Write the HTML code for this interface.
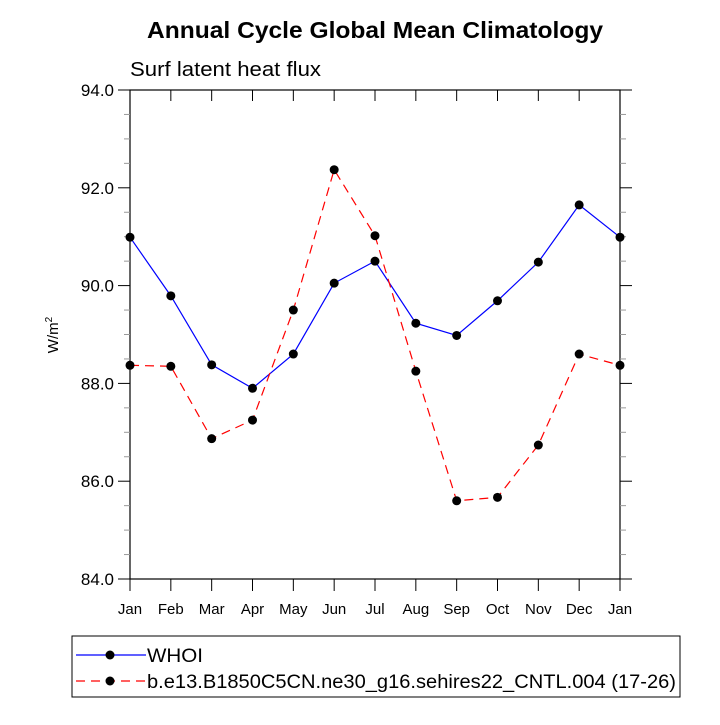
<!DOCTYPE html>
<html><head><meta charset="utf-8"><style>
body{margin:0;background:#fff;}
svg text{font-family:"Liberation Sans",Helvetica,sans-serif;}
</style></head><body>
<svg id="chart" width="720" height="720" xmlns="http://www.w3.org/2000/svg">
<text x="147" y="38" textLength="456" lengthAdjust="spacingAndGlyphs" font-size="23" font-weight="bold">Annual Cycle Global Mean Climatology</text>
<text x="130" y="76" textLength="191" lengthAdjust="spacingAndGlyphs" font-size="20">Surf latent heat flux</text>
<text transform="translate(58,335) rotate(-90)" text-anchor="middle" font-size="15">W/m<tspan dy="-6" font-size="10">2</tspan></text>
<g id="axes"></g>
<g id="series"></g>
<rect x="72" y="636" width="608" height="61" fill="none" stroke="#000" stroke-width="1"/>
<g>
<line x1="76" y1="655" x2="146" y2="655" stroke="#0000ff" stroke-width="1.2"/><circle cx="110" cy="655" r="4.5"/>
<text x="147" y="662" textLength="56" lengthAdjust="spacingAndGlyphs" font-size="19">WHOI</text></g>
<g>
<line x1="76" y1="681" x2="146" y2="681" stroke="#ff0000" stroke-width="1.2" stroke-dasharray="9,6"/><circle cx="110" cy="681" r="4.5"/>
<text x="147" y="688" textLength="529" lengthAdjust="spacingAndGlyphs" font-size="19">b.e13.B1850C5CN.ne30_g16.sehires22_CNTL.004 (17-26)</text></g>
</svg>
<script>
const months=["Jan","Feb","Mar","Apr","May","Jun","Jul","Aug","Sep","Oct","Nov","Dec","Jan"];
const whoi=[90.99,89.79,88.38,87.9,88.6,90.05,90.5,89.23,88.98,89.69,90.48,91.65,90.99];
const model=[88.37,88.35,86.87,87.25,89.5,92.37,91.02,88.25,85.6,85.67,86.74,88.6,88.37];
const yTicks=[84,86,88,90,92,94];
const X0=130,X1=620,Y0=579,Y1=90,YMIN=84,YMAX=94;
const NS="http://www.w3.org/2000/svg";
function xs(i){return X0+(X1-X0)*i/(months.length-1);}
function ys(v){return Y0-(v-YMIN)/(YMAX-YMIN)*(Y0-Y1);}
function mk(tag,at,parent){const e=document.createElementNS(NS,tag);for(const k in at)e.setAttribute(k,at[k]);parent.appendChild(e);return e;}
const ax=document.getElementById('axes');
const frame=mk('rect',{x:X0,y:Y1,width:X1-X0,height:Y0-Y1,fill:'none',stroke:'#000','stroke-width':1.2},ax);


months.forEach((m,i)=>{
 const x=xs(i);
 mk('line',{x1:x,y1:Y0,x2:x,y2:Y0+12,stroke:'#000'},ax);
 mk('line',{x1:x,y1:Y1,x2:x,y2:Y1+11,stroke:'#000'},ax);
 const t=mk('text',{x:x,y:Y0+35,'text-anchor':'middle','font-size':15},ax);
 t.textContent=m;
 
 
});
for(let v=YMIN;v<=YMAX+0.001;v+=0.5){
 const y=ys(v);const major=Math.abs(v/2-Math.round(v/2))<0.01;
 const L=major?12:6;const c=major?'#000':'#999';
 mk('line',{x1:X0-L,y1:y,x2:X0,y2:y,stroke:c},ax);
 mk('line',{x1:X1,y1:y,x2:X1+L,y2:y,stroke:c},ax);
}
yTicks.forEach(v=>{
 const t=mk('text',{x:X0-16,y:ys(v)+6,'text-anchor':'end','font-size':17},ax);
 t.textContent=v.toFixed(1);
 
 
});
const sg=document.getElementById('series');
function draw(vals,color,dash,name){
 const g=mk('g',{},sg);
 
 
 const pts=vals.map((v,i)=>xs(i)+','+ys(v)).join(' ');
 const at={points:pts,fill:'none',stroke:color,'stroke-width':1.2};if(dash)at['stroke-dasharray']=dash;
 mk('polyline',at,g);
 vals.forEach((v,i)=>{const c=mk('circle',{cx:xs(i),cy:ys(v),r:4.5,fill:'#000'},g);
  
  });
}
draw(whoi,'#0000ff',null,'series-whoi');
draw(model,'#ff0000','9,6','series-model');
</script>
</body></html>
